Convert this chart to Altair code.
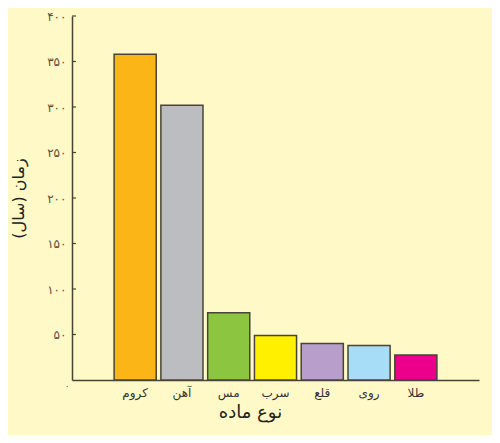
import altair as alt
import pandas as pd

materials = ["کروم", "آهن", "مس", "سرب", "قلع", "روی", "طلا"]
years = [358, 302, 74, 49, 40, 38, 27.5]
colors = ["#FBB516", "#BCBDC0", "#8CC540", "#FFF000", "#B79ECB", "#A8DDF7", "#EC008B"]
y_ticks = [0, 50, 100, 150, 200, 250, 300, 350, 400]
y_tick_labels = ["۰", "۵۰", "۱۰۰", "۱۵۰", "۲۰۰", "۲۵۰", "۳۰۰", "۳۵۰", "۴۰۰"]

df = pd.DataFrame({"material": materials, "years": years, "color": colors})
ticks_df = pd.DataFrame({"t": y_ticks[1:]})

label_map = "{" + ",".join(f"'{v}':'{l}'" for v, l in zip(y_ticks, y_tick_labels)) + "}"

FONT = "DejaVu Sans"
DARK = "#4a4436"

bars = alt.Chart(df).mark_bar(stroke=DARK, strokeWidth=1.5).encode(
    x=alt.X(
        "material:N",
        sort=materials,
        scale=alt.Scale(paddingInner=0.1, paddingOuter=0.9),
        axis=alt.Axis(
            title="نوع ماده",
            titleFont=FONT,
            titleFontSize=18,
            titleFontWeight="normal",
            titleColor="#222222",
            titleX=178,
            titleY=32,
            titleBaseline="middle",
            labelFont=FONT,
            labelFontSize=12,
            labelColor="#333333",
            labelAngle=0,
            labelPadding=7,
            ticks=False,
            domainColor=DARK,
            domainWidth=1.5,
        ),
    ),
    y=alt.Y(
        "years:Q",
        scale=alt.Scale(domain=[0, 400], nice=False),
        axis=alt.Axis(
            title="زمان (سال)",
            titleFont=FONT,
            titleFontSize=16,
            titleFontWeight="normal",
            titleColor="#222222",
            titleX=-46,
            values=y_ticks,
            labelExpr=f"{label_map}[datum.value]",
            labelFont=FONT,
            labelFontSize={"expr": "datum.value == 0 ? 9 : 12"},
            labelOffset={"expr": "datum.value == 0 ? 5 : 0"},
            labelPadding={"expr": "datum.value == 0 ? 3 : 6"},
            labelColor="#5a5040",
            ticks=False,
            grid=False,
            domainColor=DARK,
            domainWidth=1.5,
        ),
    ),
    color=alt.Color("color:N", scale=None),
)

tick_marks = alt.Chart(ticks_df).mark_rule(color=DARK, strokeWidth=1.2).encode(
    y="t:Q",
    x=alt.value(0),
    x2=alt.value(4),
)

chart = (
    alt.layer(bars, tick_marks)
    .properties(
        width=407,
        height=364,
        background="#FFF9C7",
        autosize=alt.AutoSizeParams(type="none"),
        padding={"left": 64, "top": 8, "right": 13, "bottom": 55},
    )
    .configure_view(stroke=None)
)

chart.save("out.html", embed_options={"renderer": "svg", "actions": False})
